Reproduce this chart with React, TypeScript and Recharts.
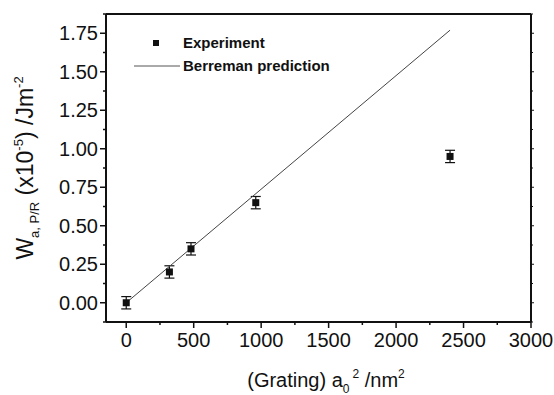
import {
  ComposedChart,
  Scatter,
  Line,
  XAxis,
  YAxis,
  ErrorBar,
  Legend,
  Label,
} from "recharts"

const gratingX = [0, 320, 480, 960, 2400]
const anchoring = [0.0, 0.2, 0.35, 0.65, 0.95]
const anchoringErr = [0.04, 0.04, 0.04, 0.04, 0.04]

const predictionX = [0, 2400]
const predictionY = [0, 1.77]

const xMajor = [0, 500, 1000, 1500, 2000, 2500, 3000]
const xMinor = [250, 750, 1250, 1750, 2250, 2750]
const yMajor = [0, 0.25, 0.5, 0.75, 1.0, 1.25, 1.5, 1.75]
const yMinor = [-0.125, 0.125, 0.375, 0.625, 0.875, 1.125, 1.375, 1.625, 1.875]

const legendOrder = ["Experiment", "Berreman prediction"]

const experimentData = gratingX.map((x, i) => ({ x, y: anchoring[i], err: anchoringErr[i] }))
const predictionData = predictionX.map((x, i) => ({ x, y: predictionY[i] }))

const FONT = "'Liberation Sans', Arial, sans-serif"
const INK = "#111"

const xTicks = [...xMajor, ...xMinor].sort((a, b) => a - b)
const yTicks = [...yMajor, ...yMinor].sort((a, b) => a - b)

// tick renderers draw both the tick mark and the label (major ticks only get labels)
function BottomTick(props: any) {
  const { x, y, payload } = props
  const major = xMajor.includes(payload.value)
  return (
    <g>
      <line x1={x} y1={y} x2={x} y2={y + (major ? 6 : 3)} stroke={INK} strokeWidth={1.5} />
      {major && (
        <text x={x} y={y + 25} textAnchor="middle" fontSize={20} fontFamily={FONT} fill={INK}>
          {payload.value}
        </text>
      )}
    </g>
  )
}

function LeftTick(props: any) {
  const { x, y, payload } = props
  const major = yMajor.some((v) => Math.abs(v - payload.value) < 1e-6)
  return (
    <g>
      <line x1={x} y1={y} x2={x - (major ? 6 : 3)} y2={y} stroke={INK} strokeWidth={1.5} />
      {major && (
        <text x={x - 8} y={y + 7} textAnchor="end" fontSize={20} fontFamily={FONT} fill={INK}>
          {payload.value.toFixed(2)}
        </text>
      )}
    </g>
  )
}

function TopTick(props: any) {
  const { x, y, payload } = props
  const major = xMajor.includes(payload.value)
  return <line x1={x} y1={y} x2={x} y2={y + (major ? 4 : 2)} stroke={INK} strokeWidth={1} />
}

function RightTick(props: any) {
  const { x, y, payload } = props
  const major = yMajor.some((v) => Math.abs(v - payload.value) < 1e-6)
  return <line x1={x} y1={y} x2={x + (major ? 3 : 2)} y2={y} stroke={INK} strokeWidth={1} />
}

function YTitle() {
  return (
    <text
      x={33}
      y={168}
      transform="rotate(-90, 33, 168)"
      textAnchor="middle"
      fontFamily={FONT}
      fontSize={23}
      fill={INK}
    >
      <tspan>W</tspan>
      <tspan fontSize={13} dy={6}>a, P/R</tspan>
      <tspan dy={-6}> (x10</tspan>
      <tspan fontSize={13} dy={-10}>-5</tspan>
      <tspan dy={10}>) /Jm</tspan>
      <tspan fontSize={13} dy={-10}>-2</tspan>
    </text>
  )
}

function XTitle() {
  return (
    <text x={326} y={387} textAnchor="middle" fontFamily={FONT} fontSize={20} fill={INK}>
      <tspan>(Grating) a</tspan>
      <tspan fontSize={12} dy={6}>0</tspan>
      <tspan fontSize={12} dy={-15} dx={3}>2</tspan>
      <tspan dy={9}> /nm</tspan>
      <tspan fontSize={12} dy={-9}>2</tspan>
    </text>
  )
}

function LegendBox(props: any) {
  const items = [...(props.payload || [])].sort(
    (a: any, b: any) => legendOrder.indexOf(a.value) - legendOrder.indexOf(b.value)
  )
  return (
    <div style={{ fontFamily: FONT, fontWeight: "bold", fontSize: 15, color: INK }}>
      {items.map((entry: any, i: number) => (
        <div key={`item-${i}`} style={{ display: "flex", alignItems: "center", height: 23 }}>
          <svg width={53} height={12} style={{ display: "block" }}>
            {entry.type === "line" ? (
              <line x1={4} y1={6} x2={50} y2={6} stroke="#555" strokeWidth={1} />
            ) : (
              <rect x={23} y={3} width={6} height={6} fill={INK} />
            )}
          </svg>
          <span>{entry.value}</span>
        </div>
      ))}
    </div>
  )
}

export default function App() {
  return (
    <div style={{ position: "fixed", left: 0, top: 0, background: "#fff" }}>
      <ComposedChart
        width={554}
        height={395}
        margin={{ top: 13, right: 22, bottom: 0, left: 0 }}
      >
        <XAxis
          dataKey="x"
          type="number"
          domain={[-150, 3000]}
          ticks={xTicks}
          interval={0}
          allowDataOverflow
          height={73}
          axisLine={{ stroke: INK, strokeWidth: 2 }}
          tickLine={false}
          tickSize={0}
          tickMargin={0}
          tick={<BottomTick />}
        >
          <Label content={<XTitle />} />
        </XAxis>
        <XAxis
          xAxisId="top"
          orientation="top"
          type="number"
          domain={[-150, 3000]}
          ticks={xTicks}
          interval={0}
          allowDataOverflow
          height={1}
          axisLine={{ stroke: INK, strokeWidth: 2 }}
          tickLine={false}
          tickSize={0}
          tickMargin={0}
          tick={<TopTick />}
        />
        <YAxis
          type="number"
          domain={[-0.125, 1.875]}
          ticks={yTicks}
          interval={0}
          allowDataOverflow
          width={106}
          axisLine={{ stroke: INK, strokeWidth: 2 }}
          tickLine={false}
          tickSize={0}
          tickMargin={0}
          tick={<LeftTick />}
        >
          <Label content={<YTitle />} />
        </YAxis>
        <YAxis
          yAxisId="right"
          orientation="right"
          type="number"
          domain={[-0.125, 1.875]}
          ticks={yTicks}
          interval={0}
          allowDataOverflow
          width={1}
          axisLine={{ stroke: INK, strokeWidth: 2 }}
          tickLine={false}
          tickSize={0}
          tickMargin={0}
          tick={<RightTick />}
        />
        <Legend
          layout="vertical"
          align="center"
          verticalAlign="middle"
          content={<LegendBox />}
          wrapperStyle={{ position: "absolute", left: 130, top: 31, width: 240 }}
        />
        <Scatter
          data={experimentData}
          dataKey="y"
          name="Experiment"
          fill={INK}
          legendType="square"
          shape={(p: any) => <rect x={p.cx - 3.5} y={p.cy - 3.5} width={7} height={7} fill={INK} />}
          isAnimationActive={false}
        >
          <ErrorBar dataKey="err" width={5} stroke={INK} strokeWidth={1.2} direction="y" />
        </Scatter>
        <Line
          data={predictionData}
          dataKey="y"
          name="Berreman prediction"
          type="linear"
          stroke="#444"
          strokeWidth={1}
          dot={false}
          legendType="line"
          isAnimationActive={false}
        />
      </ComposedChart>
    </div>
  )
}
